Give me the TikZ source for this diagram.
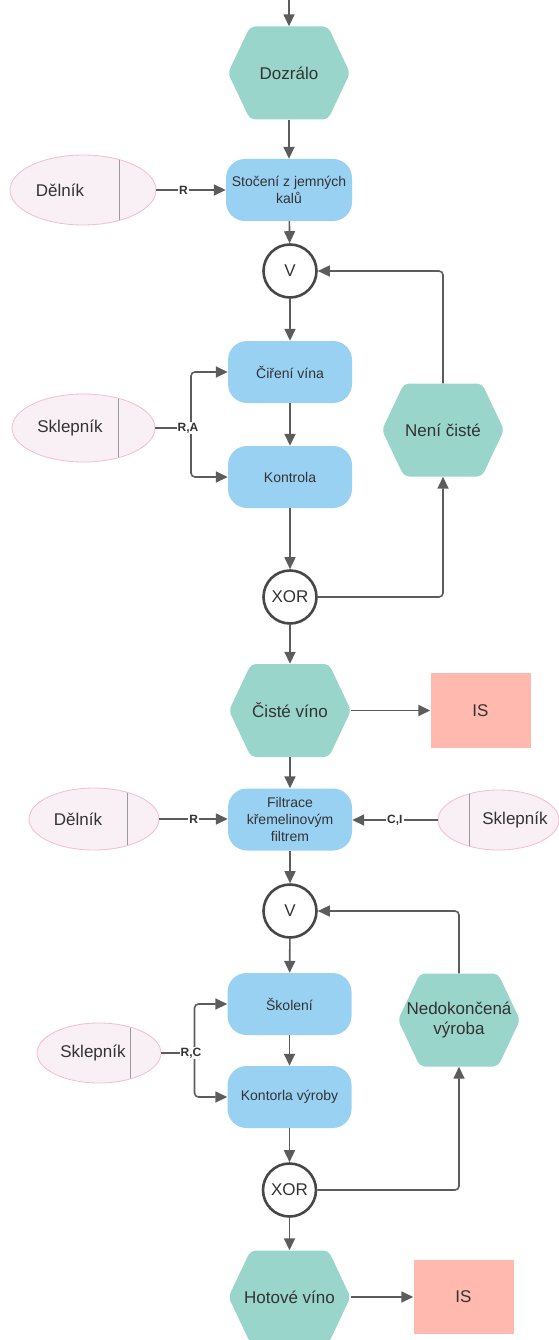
\documentclass[tikz,border=0pt]{standalone}
\usepackage{fontspec}
\setmainfont{Liberation Sans}
\usetikzlibrary{arrows.meta,shapes.geometric}
\definecolor{evfill}{HTML}{99D5CA}
\definecolor{fnfill}{HTML}{99D1F3}
\definecolor{orgfill}{HTML}{F8F0F4}
\definecolor{orgline}{HTML}{F4BCD1}
\definecolor{isfill}{HTML}{FFB9AF}
\definecolor{conn}{HTML}{5C5C5C}
\definecolor{txt}{HTML}{333333}
\definecolor{gateline}{HTML}{474747}
\definecolor{sepline}{HTML}{9A9A9A}
\begin{document}
\begin{tikzpicture}[x=1pt,y=-1pt,
  big/.style={font=\fontsize{17}{20}\selectfont},
  evt/.style={minimum width=122pt,minimum height=93pt,inner sep=0pt,text=txt,big,align=center,
    path picture={\fill[evfill,rounded corners=5pt]
      (path picture bounding box.west)
      -- ([xshift=22pt]path picture bounding box.north west)
      -- ([xshift=-22pt]path picture bounding box.north east)
      -- (path picture bounding box.east)
      -- ([xshift=-22pt]path picture bounding box.south east)
      -- ([xshift=22pt]path picture bounding box.south west) -- cycle;}},
  fn/.style={rectangle,rounded corners=19pt,fill=fnfill,minimum width=124pt,minimum height=62pt,
    inner sep=0pt,text=txt,font=\fontsize{14}{17}\selectfont,align=center},
  gate/.style={circle,draw=gateline,line width=2.6pt,fill=white,minimum size=53pt,inner sep=0pt,big,text=txt},
  org/.style={ellipse,draw=orgline,line width=0.8pt,fill=orgfill,inner sep=0pt},
  sepE/.style={path picture={\draw[sepline,line width=1pt]
      ([xshift=-#1]path picture bounding box.north east) -- ([xshift=-#1]path picture bounding box.south east);}},
  sepW/.style={path picture={\draw[sepline,line width=1pt]
      ([xshift=#1]path picture bounding box.north west) -- ([xshift=#1]path picture bounding box.south west);}},
  otext/.style={text=txt,big},
  isbox/.style={rectangle,fill=isfill,minimum width=100pt,minimum height=75pt,inner sep=0pt,big,text=txt},
  conn/.style={draw=conn,line width=1.6pt},
  arr/.style={conn,-{Triangle[length=12pt,width=11pt]}},
  lab/.style={fill=white,inner sep=1pt,text=txt,font=\bfseries\fontsize{12}{14}\selectfont}
]
\useasboundingbox (0,0) rectangle (559,1340);

% events
\node[evt] (e1) at (289,73) {Dozrálo};
\node[evt] (e2) at (443,430) {Není čisté};
\node[evt] (e3) at (290,710.5) {Čisté víno};
\node[evt] (e4) at (459,1020) {Nedokončená\\výroba};
\node[evt] (e5) at (289.5,1297) {Hotové víno};

% functions
\node[fn,minimum width=126pt] (f1) at (289,190) {Stočení z jemných\\kalů};
\node[fn] (f2) at (290,372) {Čiření vína};
\node[fn] (f3) at (290,477) {Kontrola};
\node[fn] (f4) at (290,819.5) {Filtrace\\křemelinovým\\filtrem};
\node[fn] (f5) at (289.5,1004) {Školení};
\node[fn] (f6) at (289.5,1097) {Kontorla výroby};

% gates
\node[gate] (g1) at (290,271) {V};
\node[gate] (x1) at (290,597) {XOR};
\node[gate] (g2) at (290,911) {V};
\node[gate] (x2) at (289.5,1190) {XOR};

% organisation units
\node[org,sepE=37pt,minimum width=146pt,minimum height=70pt,
  label={[otext,xshift=-23pt]center:Dělník}] (o1) at (83,190) {};
\node[org,sepE=37pt,minimum width=143pt,minimum height=68pt,
  label={[otext,xshift=-13.5pt]center:Sklepník}] (o2) at (83.5,428) {};
\node[org,sepE=32pt,minimum width=130pt,minimum height=62pt,
  label={[otext,xshift=-16pt]center:Dělník}] (o3) at (94,819) {};
\node[org,sepW=31pt,minimum width=121pt,minimum height=60pt,
  label={[otext,xshift=16.5pt]center:Sklepník}] (o4) at (498.5,820) {};
\node[org,sepE=31pt,minimum width=124pt,minimum height=60pt,
  label={[otext,xshift=-6pt]center:Sklepník}] (o5) at (99,1053) {};

% information systems
\node[isbox] (is1) at (480.5,710.5) {IS};
\node[isbox,minimum height=74pt] (is2) at (463.5,1297) {IS};

% junction coordinates
\coordinate (top) at (289,0);
\coordinate (j1) at (191,428);
\coordinate (j2) at (194.5,1053);

% main flow
\draw[arr] (top) -- (e1);
\draw[arr] (e1) -- (f1);
\draw[arr] (f1) -- (g1);
\draw[arr] (g1) -- (f2);
\draw[arr] (f2) -- (f3);
\draw[arr] (f3) -- (x1);
\draw[arr] (x1) -- (e3);
\draw[arr] (e3) -- (f4);
\draw[arr] (f4) -- (g2);
\draw[arr] (g2) -- (f5);
\draw[arr] (f5) -- (f6);
\draw[arr] (f6) -- (x2);
\draw[arr] (x2) -- (e5);

% to IS
\draw[arr] (e3) -- (is1);
\draw[arr] (e5.east) -- (is2.west |- e5.east);

% loops
\draw[arr,rounded corners=4pt] (x1.east) -| (e2.south);
\draw[arr,rounded corners=4pt] (e2.north) |- (g1.east);
\draw[arr,rounded corners=4pt] (x2.east) -| (e4.south);
\draw[arr,rounded corners=4pt] (e4.north) |- (g2.east);

% organisation connectors
\draw[arr] (o1.east) -- node[lab,pos=0.39]{R} (f1.west |- o1.east);
\draw[arr,rounded corners=4pt] (j1) |- (f2.west);
\draw[arr,rounded corners=4pt] (j1) |- (f3.west);
\draw[conn] (o2.east) -- (j1) node[lab,xshift=-3pt]{R,A};
\draw[arr] (o3.east) -- node[lab]{R} (f4.west |- o3.east);
\draw[arr] (o4.west) -- node[lab]{C,I} (f4.east |- o4.west);
\draw[arr,rounded corners=4pt] (j2) |- (f5.west);
\draw[arr,rounded corners=4pt] (j2) |- (f6.west);
\draw[conn] (o5.east) -- (j2) node[lab,xshift=-3.5pt]{R,C};
\end{tikzpicture}
\end{document}
